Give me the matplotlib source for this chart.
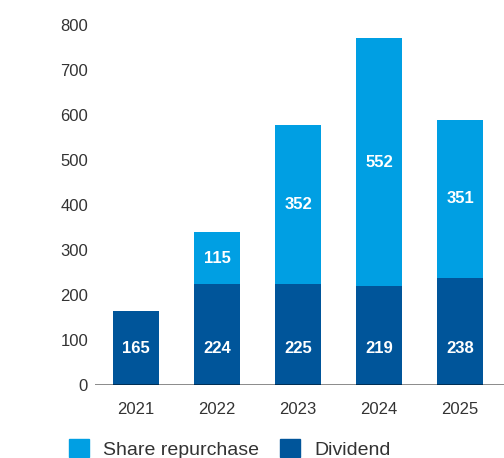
import matplotlib
matplotlib.use("Agg")
import matplotlib.pyplot as plt
from matplotlib.patches import Patch
import numpy as np

years = ["2021", "2022", "2023", "2024", "2025"]
dividend = [165, 224, 225, 219, 238]
repurchase = [0, 115, 352, 552, 351]
yticks = [0, 100, 200, 300, 400, 500, 600, 700, 800]

c_div = "#00559A"
c_rep = "#009FE3"
txt = "#333333"

plt.rcParams['font.family'] = ['Liberation Sans', 'DejaVu Sans']

fig = plt.figure(figsize=(5.04, 4.58), dpi=100)
ax = fig.add_axes([95/504, 1 - 385/458, 1 - 95/504, (385 - 25)/458])

x = np.arange(len(years))
w = 0.57
ax.bar(x, dividend, width=w, color=c_div, zorder=2)
ax.bar(x, repurchase, width=w, bottom=dividend, color=c_rep, zorder=2)

for i in range(len(years)):
    ax.text(x[i], 82, str(dividend[i]), ha="center", va="center",
            color="white", fontsize=12, fontweight="bold", zorder=3)
    if repurchase[i] > 0:
        ax.text(x[i], dividend[i] + repurchase[i] / 2, str(repurchase[i]),
                ha="center", va="center", color="white", fontsize=12,
                fontweight="bold", zorder=3)

ax.set_xlim(-0.506, 4.54)
ax.set_ylim(0, 800)
ax.set_yticks(yticks)
ax.set_xticks(x)
ax.set_xticklabels(years)
ax.tick_params(axis="both", length=0, labelsize=12, colors=txt)
ax.tick_params(axis="y", pad=5)
ax.tick_params(axis="x", pad=12)
for s in ax.spines.values():
    s.set_visible(False)
ax.axhline(0, color="black", alpha=0.5, lw=2, zorder=4)

handles = [Patch(color=c_rep, label="Share repurchase"),
           Patch(color=c_div, label="Dividend")]
fig.legend(handles=handles, loc="center", bbox_to_anchor=(230/504, 1 - 449/458),
           ncol=2, frameon=False, fontsize=14, handlelength=1.03, handleheight=1.03,
           handletextpad=0.72, columnspacing=1.08, labelcolor=txt)

fig.savefig("out.png", dpi=100)
